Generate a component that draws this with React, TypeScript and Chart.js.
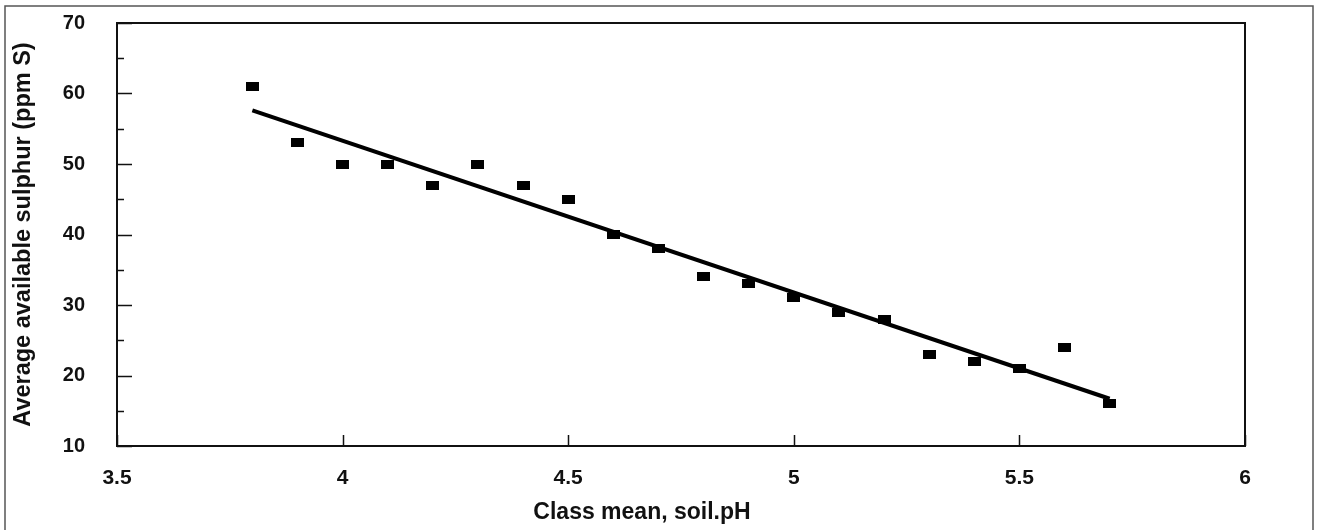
import React, { useEffect, useRef } from "react";
import { Chart, registerables } from "chart.js";

Chart.register(...registerables);

const phClasses = [3.8, 3.9, 4.0, 4.1, 4.2, 4.3, 4.4, 4.5, 4.6, 4.7, 4.8, 4.9, 5.0, 5.1, 5.2, 5.3, 5.4, 5.5, 5.6, 5.7];
const sulphurValues = [61, 53, 50, 50, 47, 50, 47, 45, 40, 38, 34, 33, 31, 29, 28, 23, 22, 21, 24, 16];
const trendX = [3.8, 5.7];
const trendY = [57.6, 16.7];
const xTitle = "Class mean, soil.pH";
const yTitle = "Average available sulphur (ppm S)";

const FONT = "'Liberation Sans', Arial, Helvetica, sans-serif";

export default function App() {
  const ref = useRef<HTMLCanvasElement | null>(null);

  useEffect(() => {
    const canvas = ref.current;
    if (!canvas) return;

    const marker = document.createElement("canvas");
    marker.width = 13;
    marker.height = 9;
    const mctx = marker.getContext("2d");
    if (mctx) {
      mctx.fillStyle = "#000";
      mctx.fillRect(0, 0, 13, 9);
    }

    const framePlugin = {
      id: "framePlugin",
      beforeDraw(chart: any) {
        const ctx = chart.ctx;
        ctx.save();
        ctx.fillStyle = "#fff";
        ctx.fillRect(0, 0, chart.width, chart.height);
        ctx.strokeStyle = "#555";
        ctx.lineWidth = 1.5;
        ctx.beginPath();
        ctx.moveTo(5, 560);
        ctx.lineTo(5, 6);
        ctx.lineTo(1313, 6);
        ctx.lineTo(1313, 560);
        ctx.stroke();
        ctx.restore();
      },
      afterDraw(chart: any) {
        const ctx = chart.ctx;
        const a = chart.chartArea;
        const xs = chart.scales.x;
        const ys = chart.scales.y;
        ctx.save();
        ctx.strokeStyle = "#111";
        ctx.lineWidth = 2;
        ctx.strokeRect(a.left, a.top, a.right - a.left, a.bottom - a.top);
        ctx.lineWidth = 1.5;
        ctx.beginPath();
        ys.ticks.forEach((t: any) => {
          const py = Math.round(ys.getPixelForValue(t.value)) + 0.5;
          const len = Math.abs(t.value % 10) < 1e-6 ? 15 : 7;
          ctx.moveTo(a.left, py);
          ctx.lineTo(a.left + len, py);
        });
        xs.ticks.forEach((t: any) => {
          const px = Math.round(xs.getPixelForValue(t.value)) + 0.5;
          ctx.moveTo(px, a.bottom);
          ctx.lineTo(px, a.bottom - 11);
        });
        ctx.stroke();
        ctx.fillStyle = "#111";
        ctx.font = `bold 23px ${FONT}`;
        ctx.textAlign = "center";
        ctx.textBaseline = "middle";
        ctx.fillText(xTitle, 642, 513);
        ctx.restore();
      },
    };

    const chart = new Chart(canvas, {
      type: "scatter",
      data: {
        datasets: [
          {
            type: "line",
            label: "Trend",
            data: trendX.map((x, i) => ({ x, y: trendY[i] })),
            borderColor: "#000",
            borderWidth: 4,
            pointRadius: 0,
            fill: false,
          } as any,
          {
            label: "Average available sulphur",
            data: phClasses.map((x, i) => ({ x, y: sulphurValues[i] })),
            pointStyle: marker as any,
            pointRadius: 6,
            backgroundColor: "#000",
            borderColor: "#000",
          },
        ],
      },
      plugins: [framePlugin],
      options: {
        responsive: false,
        animation: false,
        layout: { padding: { left: 0, top: 23, right: 73, bottom: 0 } },
        plugins: {
          legend: { display: false },
          tooltip: { enabled: false },
        },
        scales: {
          x: {
            type: "linear",
            min: 3.5,
            max: 6,
            grid: {
              display: true,
              drawOnChartArea: false,
              drawTicks: true,
              tickLength: 18,
              tickColor: "rgba(0,0,0,0)",
              color: "rgba(0,0,0,0)",
            },
            border: { display: false },
            ticks: {
              stepSize: 0.5,
              padding: 2,
              color: "#111",
              font: { family: FONT, size: 21, weight: "bold" },
              callback: (v: any) => String(Math.round(Number(v) * 10) / 10),
            },
            afterFit: (s: any) => {
              s.height = 84;
            },
          },
          y: {
            type: "linear",
            min: 10,
            max: 70,
            grid: {
              display: true,
              drawOnChartArea: false,
              drawTicks: true,
              tickLength: 28,
              tickColor: "rgba(0,0,0,0)",
              color: "rgba(0,0,0,0)",
            },
            border: { display: false },
            ticks: {
              stepSize: 5,
              padding: 4,
              color: "#111",
              font: { family: FONT, size: 20, weight: "bold" },
              callback: (v: any) => (Number(v) % 10 === 0 ? String(v) : ""),
            },
            title: {
              display: true,
              text: yTitle,
              color: "#111",
              font: { family: FONT, size: 23.5, weight: "bold" },
              padding: { top: 9, bottom: 0 },
            },
            afterFit: (s: any) => {
              s.width = 117;
            },
          },
        },
      },
    });

    return () => {
      chart.destroy();
    };
  }, []);

  return (
    <div style={{ position: "absolute", left: 0, top: 0, width: 1318, height: 530, background: "#fff" }}>
      <canvas ref={ref} width={1318} height={530} style={{ display: "block" }} />
    </div>
  );
}
